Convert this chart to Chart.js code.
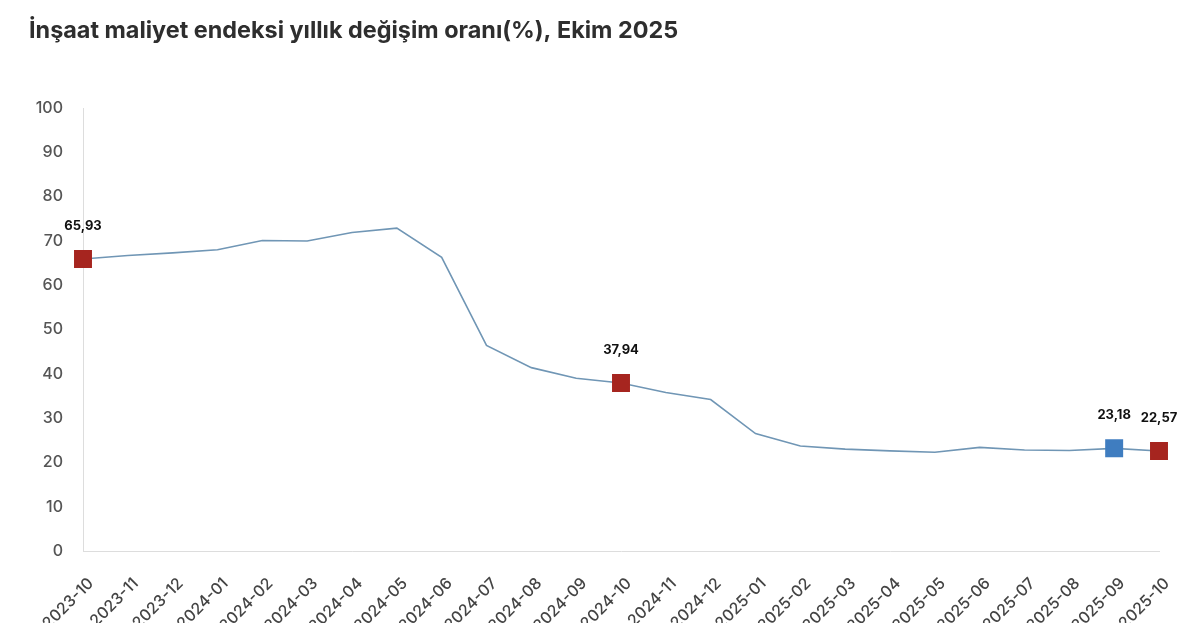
<!DOCTYPE html>
<html>
<head>
<meta charset="utf-8">
<script src="https://cdn.jsdelivr.net/npm/chart.js@4/dist/chart.umd.min.js"></script>
<style>
html,body{margin:0;padding:0;background:#fff;overflow:hidden;}
#wrap{width:1200px;height:623px;position:relative;}
</style>
</head>
<body>
<div id="wrap"><canvas id="c"></canvas></div>
<script>
const titleText = "İnşaat maliyet endeksi yıllık değişim oranı(%), Ekim 2025";
const categories = ["2023-10","2023-11","2023-12","2024-01","2024-02","2024-03","2024-04","2024-05","2024-06","2024-07","2024-08","2024-09","2024-10","2024-11","2024-12","2025-01","2025-02","2025-03","2025-04","2025-05","2025-06","2025-07","2025-08","2025-09","2025-10"];
const values = [65.93,66.7,67.3,68.0,70.1,70.0,71.9,72.9,66.3,46.4,41.4,39.0,37.94,35.8,34.2,26.5,23.7,23.0,22.6,22.3,23.4,22.8,22.7,23.18,22.57];
const highlightIdx = [0,12,23,24];
const highlightColors = ["#A6251F","#A6251F","#3F7DC0","#A6251F"];
const labelTexts = ["65,93","37,94","23,18","22,57"];

const FONT = "Inter, 'Liberation Sans', Arial, sans-serif";
const pointRadius = values.map((v,i)=> highlightIdx.includes(i) ? 12.7 : 0);
const pointColors = values.map((v,i)=> { const k = highlightIdx.indexOf(i); return k>=0 ? highlightColors[k] : "#7096B5"; });

const labelPlugin = {
  id: 'hlLabels',
  afterDatasetsDraw(chart){
    const ctx = chart.ctx;
    const meta = chart.getDatasetMeta(0);
    ctx.save();
    ctx.font = "bold 13px " + FONT;
    ctx.fillStyle = "#111";
    ctx.textAlign = "center";
    ctx.textBaseline = "middle";
    highlightIdx.forEach((idx,k)=>{
      const p = meta.data[idx];
      ctx.fillText(labelTexts[k], p.x, p.y - 33);
    });
    ctx.restore();
  }
};

new Chart(document.getElementById('c'), {
  type: 'line',
  data: {
    labels: categories,
    datasets: [{
      data: values,
      borderColor: "#7096B5",
      borderWidth: 1.6,
      tension: 0,
      pointStyle: 'rect',
      pointRadius: pointRadius,
      pointHoverRadius: pointRadius,
      pointBackgroundColor: pointColors,
      pointBorderColor: pointColors,
      pointBorderWidth: 0
    }]
  },
  options: {
    responsive: true,
    maintainAspectRatio: false,
    animation: false,
    layout: { padding: { left: 29, right: 41, top: 0, bottom: 0 } },
    plugins: {
      legend: { display: false },
      tooltip: { enabled: false },
      title: {
        display: true,
        text: titleText,
        align: 'start',
        color: '#2e2e2e',
        font: { family: FONT, size: 23.4, weight: 'bold' },
        padding: { top: 17, bottom: 63 }
      }
    },
    scales: {
      y: {
        min: 0, max: 100,
        ticks: { stepSize: 10, color: '#555', padding: 20, font: { family: FONT, size: 16, weight: 500 } },
        grid: { display: false, drawTicks: false },
        border: { display: true, color: '#dddddd', width: 1 },
        afterFit(scale){ scale.width = 54; }
      },
      x: {
        offset: false,
        ticks: { minRotation: 45, maxRotation: 45, autoSkip: false, color: '#444', padding: 23, labelOffset: 8, font: { family: FONT, size: 16, weight: 500 } },
        grid: { display: false, drawTicks: false },
        border: { display: true, color: '#dddddd', width: 1 },
        afterFit(scale){ scale.height = 72; }
      }
    }
  },
  plugins: [labelPlugin]
});
</script>
</body>
</html>
